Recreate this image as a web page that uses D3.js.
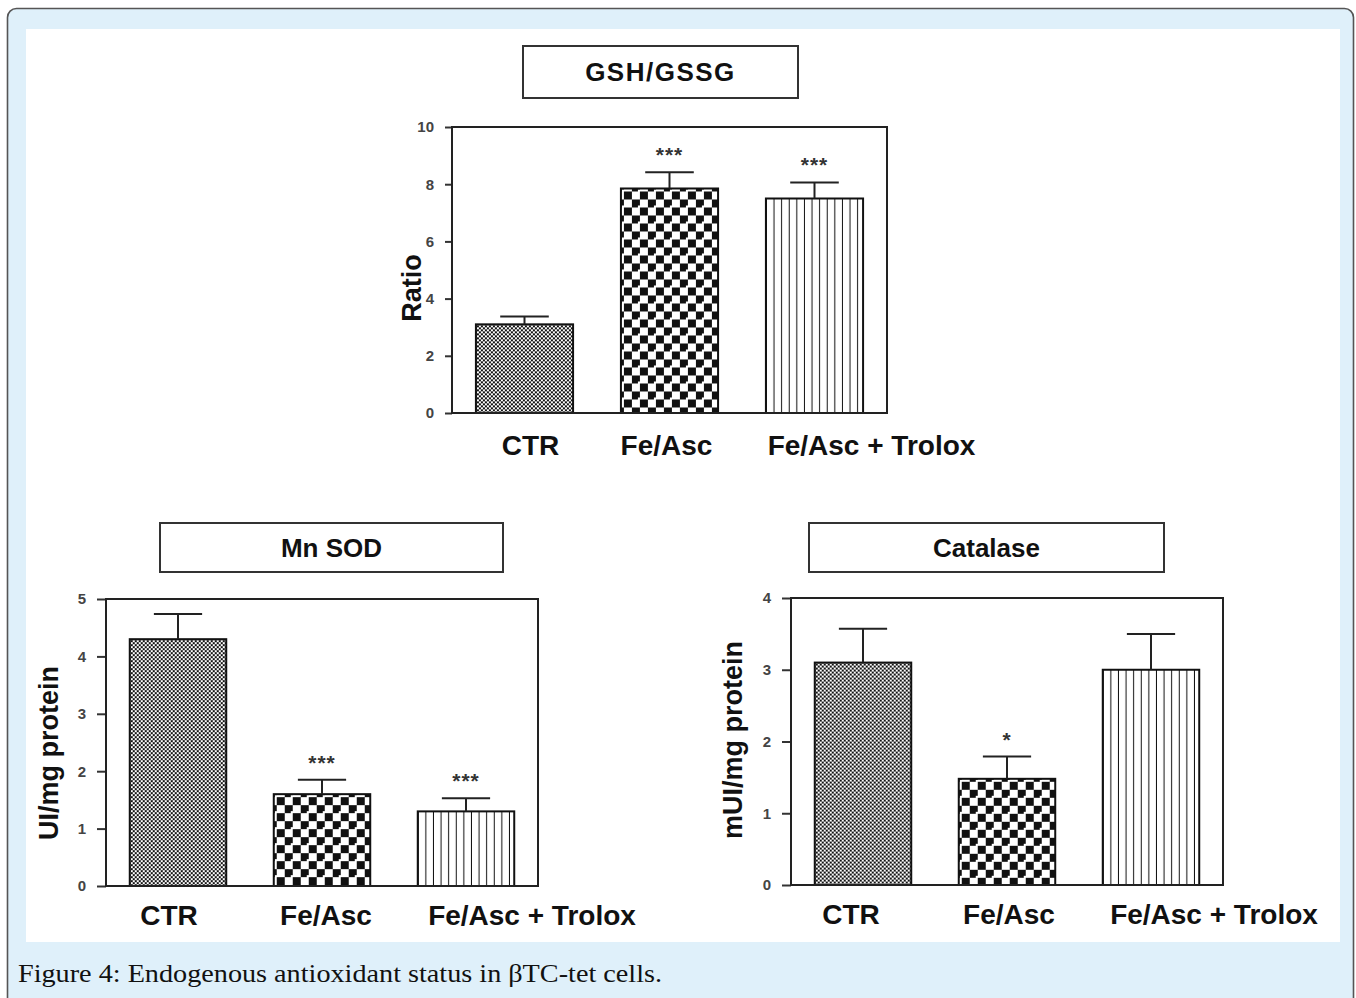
<!DOCTYPE html>
<html>
<head>
<meta charset="utf-8">
<script src="https://cdn.jsdelivr.net/npm/d3@7"></script>
<style>
  html, body { margin: 0; padding: 0; background: #fff; }
  svg { display: block; }
</style>
</head>
<body>
<svg id="fig" width="1356" height="998"></svg>
<script>
// Treatment groups shared by all three panels
const groups = ["CTR", "Fe/Asc", "Fe/Asc + Trolox"];

// GSH/GSSG ratio (mean and SEM)
const gshMean = [3.1, 7.85, 7.5];
const gshSem = [0.27, 0.57, 0.56];
const gshSig = ["", "***", "***"];
const gshTicks = [0, 2, 4, 6, 8, 10];

// Mn SOD activity, UI/mg protein
const sodMean = [4.3, 1.6, 1.3];
const sodSem = [0.44, 0.25, 0.23];
const sodSig = ["", "***", "***"];
const sodTicks = [0, 1, 2, 3, 4, 5];

// Catalase activity, mUI/mg protein
const catMean = [3.1, 1.48, 3.0];
const catSem = [0.47, 0.31, 0.5];
const catSig = ["", "*", ""];
const catTicks = [0, 1, 2, 3, 4];

const caption = "Figure 4: Endogenous antioxidant status in \u03B2TC-tet cells.";

const svg = d3.select("#fig");
const defs = svg.append("defs");

// Page frame: rounded light-blue card with a white figure area
svg.append("rect")
  .attr("x", 7.5).attr("y", 8.5).attr("width", 1346).attr("height", 1010)
  .attr("rx", 9).attr("fill", "#dff0fa").attr("stroke", "#555").attr("stroke-width", 1.6);
svg.append("rect")
  .attr("x", 26).attr("y", 29).attr("width", 1314).attr("height", 913)
  .attr("fill", "#fff");

svg.append("text")
  .attr("x", 18).attr("y", 982)
  .attr("font-family", "'Liberation Serif', 'DejaVu Serif', serif")
  .attr("font-size", 26)
  .attr("fill", "#111")
  .attr("textLength", 644)
  .attr("lengthAdjust", "spacingAndGlyphs")
  .text(caption);

// Fill patterns: fine checker, coarse checker, vertical stripes
function makePattern(id, kind, x, y) {
  const p = defs.append("pattern")
    .attr("id", id)
    .attr("patternUnits", "userSpaceOnUse")
    .attr("x", x).attr("y", y);
  if (kind === 0) {
    p.attr("width", 4).attr("height", 4);
    p.append("rect").attr("width", 4).attr("height", 4).attr("fill", "#fff");
    p.append("rect").attr("width", 2).attr("height", 2).attr("fill", "#111");
    p.append("rect").attr("x", 2).attr("y", 2).attr("width", 2).attr("height", 2).attr("fill", "#111");
  } else if (kind === 1) {
    p.attr("width", 16).attr("height", 16);
    p.append("rect").attr("width", 16).attr("height", 16).attr("fill", "#fff");
    p.append("rect").attr("x", 2).attr("y", 2).attr("width", 8).attr("height", 8).attr("fill", "#111");
    p.append("rect").attr("x", 10).attr("y", 10).attr("width", 8).attr("height", 8).attr("fill", "#111");
    p.append("rect").attr("x", -6).attr("y", 10).attr("width", 8).attr("height", 8).attr("fill", "#111");
    p.append("rect").attr("x", 10).attr("y", -6).attr("width", 8).attr("height", 8).attr("fill", "#111");
  } else {
    p.attr("width", 7.6).attr("height", 8);
    p.append("rect").attr("width", 7.6).attr("height", 8).attr("fill", "#fff");
    p.append("rect").attr("x", 6.6).attr("width", 2).attr("height", 8).attr("fill", "#111");
  }
}

const panels = [
  { key: "gsh", title: "GSH/GSSG", titleBox: [523, 46, 798, 98], letter: 1.5,
    plot: [452, 127, 887, 413], max: 10, ticks: gshTicks, tickLen: 7,
    mean: gshMean, sem: gshSem, sig: gshSig,
    yLabel: "Ratio", yLabelPos: [421, 288],
    labelY: 455, labelDx: [6, -3, 57] },
  { key: "sod", title: "Mn SOD", titleBox: [160, 523, 503, 572], letter: 0,
    plot: [106, 599, 538, 886], max: 5, ticks: sodTicks, tickLen: 9,
    mean: sodMean, sem: sodSem, sig: sodSig,
    yLabel: "UI/mg protein", yLabelPos: [58, 753],
    labelY: 925, labelDx: [-9, 4, 66] },
  { key: "cat", title: "Catalase", titleBox: [809, 523, 1164, 572], letter: 0,
    plot: [791, 598, 1223, 885], max: 4, ticks: catTicks, tickLen: 9,
    mean: catMean, sem: catSem, sig: catSig,
    yLabel: "mUI/mg protein", yLabelPos: [742, 740],
    labelY: 924, labelDx: [-12, 2, 63] }
];

const boldFont = "'Liberation Sans', Arial, sans-serif";

panels.forEach(pn => {
  const [x0, y0, x1, y1] = pn.plot;
  const g = svg.append("g");

  const x = d3.scaleBand().domain(groups).range([x0, x1])
    .paddingInner(0.33).paddingOuter(0.165);
  const y = d3.scaleLinear().domain([0, pn.max]).range([y1, y0]);

  // Title box
  const [bx0, by0, bx1, by1] = pn.titleBox;
  g.append("rect")
    .attr("x", bx0).attr("y", by0).attr("width", bx1 - bx0).attr("height", by1 - by0)
    .attr("fill", "#fff").attr("stroke", "#333").attr("stroke-width", 2);
  g.append("text")
    .attr("x", (bx0 + bx1) / 2).attr("y", (by0 + by1) / 2 + 9)
    .attr("text-anchor", "middle")
    .attr("font-family", boldFont).attr("font-weight", "bold")
    .attr("font-size", 26).attr("letter-spacing", pn.letter)
    .attr("fill", "#111")
    .text(pn.title);

  // Bars with patterned fills
  pn.mean.forEach((v, i) => {
    const bx = x(groups[i]);
    const by = y(v);
    const pid = `fill-${pn.key}-${i}`;
    makePattern(pid, i, bx + 1, by + 1);
    g.append("rect")
      .attr("x", bx).attr("y", by)
      .attr("width", x.bandwidth()).attr("height", y(0) - by)
      .attr("fill", `url(#${pid})`)
      .attr("stroke", "#111").attr("stroke-width", 2);
  });

  // Upper error bars
  pn.mean.forEach((v, i) => {
    const cx = x(groups[i]) + x.bandwidth() / 2;
    const top = y(v + pn.sem[i]);
    const cap = x.bandwidth() * 0.5;
    g.append("line")
      .attr("x1", cx).attr("x2", cx).attr("y1", y(v)).attr("y2", top)
      .attr("stroke", "#222").attr("stroke-width", 2);
    g.append("line")
      .attr("x1", cx - cap / 2).attr("x2", cx + cap / 2).attr("y1", top).attr("y2", top)
      .attr("stroke", "#222").attr("stroke-width", 2);
    if (pn.sig[i]) {
      g.append("text")
        .attr("x", cx).attr("y", top - 10)
        .attr("text-anchor", "middle")
        .attr("font-family", boldFont).attr("font-weight", "bold")
        .attr("font-size", 21).attr("letter-spacing", 1)
        .attr("fill", "#333")
        .text(pn.sig[i]);
    }
  });

  // Y axis ticks and labels
  const axis = g.append("g")
    .attr("transform", `translate(${x0},0)`)
    .call(d3.axisLeft(y).tickValues(pn.ticks).tickFormat(d3.format("d"))
      .tickSize(pn.tickLen).tickPadding(11));
  axis.select(".domain").remove();
  axis.selectAll(".tick line").attr("stroke", "#333").attr("stroke-width", 2);
  axis.selectAll(".tick text")
    .attr("font-family", boldFont).attr("font-weight", "bold")
    .attr("font-size", 15).attr("fill", "#444");

  // Plot frame
  g.append("rect")
    .attr("x", x0).attr("y", y0).attr("width", x1 - x0).attr("height", y1 - y0)
    .attr("fill", "none").attr("stroke", "#222").attr("stroke-width", 2);

  // Category labels
  groups.forEach((c, i) => {
    g.append("text")
      .attr("x", x(c) + x.bandwidth() / 2 + pn.labelDx[i]).attr("y", pn.labelY)
      .attr("text-anchor", "middle")
      .attr("font-family", boldFont).attr("font-weight", "bold")
      .attr("font-size", 28).attr("fill", "#111")
      .text(c);
  });

  // Y axis title
  g.append("text")
    .attr("transform", `translate(${pn.yLabelPos[0]},${pn.yLabelPos[1]}) rotate(-90)`)
    .attr("text-anchor", "middle")
    .attr("font-family", boldFont).attr("font-weight", "bold")
    .attr("font-size", 27).attr("fill", "#111")
    .text(pn.yLabel);
});
</script>
</body>
</html>
